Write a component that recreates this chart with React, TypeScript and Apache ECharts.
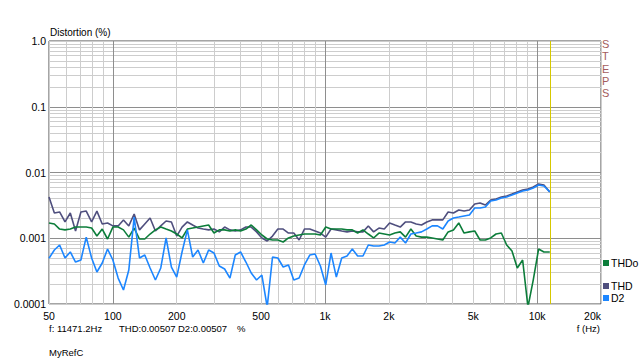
import React, { useEffect, useRef } from "react";
import * as echarts from "echarts";

// Frequencies (Hz), 1/12-octave steps
const freqs = [
  50, 53, 56.1, 59.5, 63, 66.7, 70.7, 74.9, 79.4, 84.1, 89.1, 94.4,
  100, 105.9, 112.2, 118.9, 126, 133.5, 141.4, 149.8, 158.7, 168.2, 178.2, 188.8,
  200, 211.9, 224.5, 237.8, 252, 267, 282.8, 299.7, 317.5, 336.4, 356.4, 377.6,
  400, 423.8, 449, 475.7, 504, 533.9, 565.7, 599.3, 635, 672.7, 712.7, 755.1,
  800, 847.6, 898, 951.4, 1008, 1068, 1131, 1199, 1270, 1345, 1425, 1510,
  1600, 1695, 1796, 1903, 2016, 2136, 2263, 2397, 2540, 2691, 2851, 3020,
  3200, 3390, 3592, 3805, 4032, 4271, 4525, 4795, 5080, 5382, 5702, 6041,
  6400, 6781, 7184, 7611, 8063, 8543, 9051, 9589, 10159, 10764, 11471,
];

// Distortion (%)
const thdo = [
  0.00171, 0.00165, 0.00138, 0.00134, 0.00138, 0.00148, 0.00148, 0.00148, 0.00143, 0.00108, 0.00138, 0.000974,
  0.00148, 0.00148, 0.00134, 0.00104, 0.00143, 0.000974, 0.000974, 0.00116, 0.00134, 0.00148, 0.00138, 0.00129,
  0.00116, 0.00101, 0.00138, 0.00143, 0.00148, 0.00154, 0.00159, 0.0012, 0.00134, 0.00134, 0.00129, 0.00134,
  0.00129, 0.00138, 0.00159, 0.00134, 0.00112, 0.000974, 0.00094, 0.00094, 0.000877, 0.00101, 0.00108, 0.00112,
  0.00116, 0.00116, 0.00116, 0.00112, 0.00148, 0.00138, 0.00138, 0.00138, 0.00134, 0.00134, 0.0012, 0.00134,
  0.00116, 0.00101, 0.0012, 0.00116, 0.00112, 0.0012, 0.00125, 0.00104, 0.00138, 0.00108, 0.00104, 0.00104,
  0.00101, 0.000974, 0.00094, 0.00125, 0.00134, 0.00171, 0.0012, 0.00125, 0.00129, 0.00094, 0.00094, 0.00101,
  0.00116, 0.0012, 0.000789, 0.00064, 0.000353, 0.000467, 0.00009, 0.000232, 0.000686, 0.000618, 0.000618,
];

const thd = [
  0.00424, 0.00242, 0.00251, 0.00177, 0.00242, 0.00129, 0.00251, 0.00259, 0.00177, 0.00259, 0.00165, 0.00171,
  0.00154, 0.00154, 0.0019, 0.00154, 0.00234, 0.00134, 0.00165, 0.00203, 0.00129, 0.00154, 0.00183, 0.00177,
  0.00108, 0.00148, 0.00177, 0.00159, 0.00143, 0.00138, 0.00134, 0.00138, 0.00125, 0.00148, 0.00134, 0.00129,
  0.00134, 0.00148, 0.00148, 0.00125, 0.00101, 0.000908, 0.00108, 0.00138, 0.00138, 0.0012, 0.0012, 0.00094,
  0.00138, 0.00138, 0.00129, 0.0012, 0.00104, 0.00138, 0.00134, 0.00129, 0.00125, 0.00129, 0.00125, 0.00125,
  0.00154, 0.00125, 0.00143, 0.00138, 0.00171, 0.00159, 0.00148, 0.00177, 0.00177, 0.00165, 0.00159, 0.00177,
  0.0019, 0.0019, 0.0019, 0.00251, 0.00242, 0.00269, 0.00259, 0.00269, 0.00332, 0.00344, 0.0032, 0.00382,
  0.00396, 0.00424, 0.00439, 0.00471, 0.00506, 0.00542, 0.00562, 0.00602, 0.00669, 0.00646, 0.00507,
];

const d2 = [
  0.000496, 0.000662, 0.000789, 0.000501, 0.000618, 0.000435, 0.000467, 0.00104, 0.000501, 0.000307, 0.00042, 0.000686,
  0.000467, 0.000248, 0.000163, 0.000329, 0.0021, 0.000501, 0.000556, 0.000353, 0.000232, 0.000353, 0.00101, 0.000365,
  0.000257, 0.000618, 0.00134, 0.000518, 0.000662, 0.00042, 0.000662, 0.000596, 0.000378, 0.000341, 0.000248, 0.000556,
  0.000618, 0.000435, 0.000296, 0.000232, 0.000276, 0.00009, 0.000518, 0.000501, 0.000365, 0.000392, 0.000232, 0.000248,
  0.000392, 0.000556, 0.000576, 0.000378, 0.000195, 0.000596, 0.000257, 0.000501, 0.000537, 0.000686, 0.000537, 0.000537,
  0.000789, 0.000762, 0.000762, 0.000789, 0.000877, 0.000847, 0.00104, 0.000847, 0.00116, 0.0012, 0.00125, 0.00138,
  0.00154, 0.00154, 0.00138, 0.00183, 0.00203, 0.0021, 0.00218, 0.00226, 0.00288, 0.00288, 0.00299, 0.00369,
  0.00382, 0.0041, 0.00424, 0.00455, 0.00488, 0.00524, 0.00542, 0.00582, 0.00646, 0.00624, 0.00507,
];

const xTickLabels = [50, 100, 200, 500, 1000, 2000, 5000, 10000, 20000];
const xMinorGrid = [
  50, 60, 70, 80, 90, 100, 200, 300, 400, 500, 600, 700, 800, 900,
  1000, 2000, 3000, 4000, 5000, 6000, 7000, 8000, 9000, 10000, 20000,
];
const xMajorGrid = [100, 1000, 10000];
const yTickLabels = [0.0001, 0.001, 0.01, 0.1, 1];
const yMinorGrid = [
  0.0001, 0.0002, 0.0003, 0.0004, 0.0005, 0.0006, 0.0007, 0.0008, 0.0009,
  0.001, 0.002, 0.003, 0.004, 0.005, 0.006, 0.007, 0.008, 0.009,
  0.01, 0.02, 0.03, 0.04, 0.05, 0.06, 0.07, 0.08, 0.09,
  0.1, 0.2, 0.3, 0.4, 0.5, 0.6, 0.7, 0.8, 0.9, 1,
];
const yMajorGrid = [0.001, 0.01, 0.1];
const cursorFreq = 11471.2;

const FONT = '"Liberation Sans", Arial, Helvetica, sans-serif';
const lg = Math.log10;

const C_THDO = "#0c7d3a";
const C_THD = "#4f4f7e";
const C_D2 = "#1c86ff";

function findTick(list: number[], v: number) {
  return list.find((t) => Math.abs(lg(t) - v) < 1e-6);
}

export default function App() {
  const ref = useRef<HTMLDivElement>(null);

  useEffect(() => {
    if (!ref.current) return;
    const chart = echarts.init(ref.current, null, { renderer: "svg" });
    const xMin = lg(xTickLabels[0]);
    const xMax = lg(xTickLabels[xTickLabels.length - 1]);
    const yMin = lg(yTickLabels[0]);
    const yMax = lg(yTickLabels[yTickLabels.length - 1]);
    const toPts = (arr: number[]) => freqs.map((f, i) => [lg(f), lg(arr[i])]);
    const lastThd = thd[thd.length - 1];
    const lastD2 = d2[d2.length - 1];

    const txt = { fontSize: 10.5, color: "#000", fontFamily: FONT };
    const small = `9.5px ${FONT}`;

    chart.setOption({
      animation: false,
      backgroundColor: "#fff",
      grid: {
        left: 49,
        right: 39,
        top: 41,
        bottom: 56,
        show: true,
        borderColor: "#4a4a4a",
        borderWidth: 1,
        backgroundColor: "#fff",
      },
      xAxis: [
        {
          type: "value",
          min: xMin,
          max: xMax,
          position: "bottom",
          axisLine: { show: false },
          axisTick: { show: false, customValues: xMinorGrid.map(lg) },
          axisLabel: {
            ...txt,
            margin: 6,
            customValues: xTickLabels.map(lg),
            alignMaxLabel: "right",
            formatter: (v: number) => {
              const f = findTick(xTickLabels, v);
              if (f === undefined) return "";
              return f >= 1000 ? f / 1000 + "k" : String(f);
            },
          },
          splitLine: { show: true, lineStyle: { color: "#cdcdcd", width: 1 } },
        },
        {
          type: "value",
          min: xMin,
          max: xMax,
          position: "top",
          axisLine: { show: false },
          axisTick: { show: false, customValues: xMajorGrid.map(lg) },
          axisLabel: { show: false },
          splitLine: { show: true, lineStyle: { color: "#8e8e8e", width: 1 } },
        },
      ],
      yAxis: [
        {
          type: "value",
          min: yMin,
          max: yMax,
          position: "left",
          axisLine: { show: false },
          axisTick: { show: false, customValues: yMinorGrid.map(lg) },
          axisLabel: {
            ...txt,
            margin: 3,
            customValues: yTickLabels.map(lg),
            formatter: (v: number) => {
              const t = findTick(yTickLabels, v);
              if (t === undefined) return "";
              return t === 1 ? "1.0" : String(t);
            },
          },
          splitLine: { show: true, lineStyle: { color: "#cdcdcd", width: 1 } },
        },
        {
          type: "value",
          min: yMin,
          max: yMax,
          position: "right",
          axisLine: { show: false },
          axisTick: { show: false, customValues: yMajorGrid.map(lg) },
          axisLabel: { show: false },
          splitLine: { show: true, lineStyle: { color: "#8e8e8e", width: 1 } },
        },
      ],
      legend: [
        {
          data: ["THDo"],
          left: 603,
          top: 257,
          orient: "vertical",
          icon: "rect",
          itemWidth: 6,
          itemHeight: 6,
          itemGap: 0,
          padding: 0,
          selectedMode: false,
          textStyle: { ...txt, lineHeight: 12, padding: [0, 0, 0, -3] },
        },
        {
          data: ["THD", "D2"],
          left: 603,
          top: 280,
          orient: "vertical",
          icon: "rect",
          itemWidth: 6,
          itemHeight: 6,
          itemGap: 0,
          padding: 0,
          selectedMode: false,
          textStyle: { ...txt, lineHeight: 12, padding: [0, 0, 0, -3] },
        },
      ],
      series: [
        {
          name: "THD",
          type: "line",
          xAxisIndex: 0,
          yAxisIndex: 0,
          data: toPts(thd),
          showSymbol: false,
          clip: true,
          color: C_THD,
          lineStyle: { color: C_THD, width: 1.6 },
        },
        {
          name: "THDo",
          type: "line",
          xAxisIndex: 0,
          yAxisIndex: 0,
          data: toPts(thdo),
          showSymbol: false,
          clip: true,
          color: C_THDO,
          lineStyle: { color: C_THDO, width: 1.6 },
        },
        {
          name: "D2",
          type: "line",
          xAxisIndex: 0,
          yAxisIndex: 0,
          data: toPts(d2),
          showSymbol: false,
          clip: true,
          color: C_D2,
          lineStyle: { color: C_D2, width: 1.6 },
          markLine: {
            silent: true,
            symbol: ["none", "none"],
            label: { show: false },
            lineStyle: { color: "#d6c800", width: 1, type: "solid" },
            data: [{ xAxis: lg(cursorFreq) }],
          },
        },
      ],
      graphic: [
        {
          type: "text",
          left: 50,
          top: 27,
          style: { text: "Distortion (%)", font: `10px ${FONT}`, fill: "#000" },
        },
        {
          type: "text",
          left: 602,
          top: 38,
          style: {
            text: "S\nT\nE\nP\nS",
            font: `11px ${FONT}`,
            fill: "#a45c5c",
            lineHeight: 12.2,
            align: "center",
          },
        },
        {
          type: "text",
          left: 49,
          top: 323,
          style: { text: `f: ${cursorFreq}Hz`, font: small, fill: "#000" },
        },
        {
          type: "text",
          left: 119,
          top: 323,
          style: { text: `THD:${lastThd}`, font: small, fill: "#000" },
        },
        {
          type: "text",
          left: 178,
          top: 323,
          style: { text: `D2:${lastD2}`, font: small, fill: "#000" },
        },
        {
          type: "text",
          left: 237,
          top: 323,
          style: { text: "%", font: small, fill: "#000" },
        },
        {
          type: "text",
          right: 40,
          top: 323,
          style: { text: "f (Hz)", font: small, fill: "#000" },
        },
        {
          type: "text",
          left: 49,
          top: 347,
          style: { text: "MyRefC", font: small, fill: "#000" },
        },
      ],
    });

    return () => chart.dispose();
  }, []);

  return (
    <div
      ref={ref}
      style={{ position: "fixed", left: 0, top: 0, width: 640, height: 360 }}
    />
  );
}
